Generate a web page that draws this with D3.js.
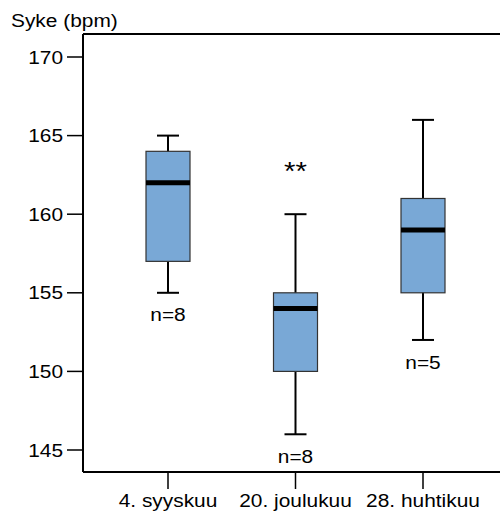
<!DOCTYPE html>
<html>
<head>
<meta charset="utf-8">
<script src="https://cdn.jsdelivr.net/npm/d3@7"></script>
<style>
  body { margin: 0; background: #fff; }
  text { font-family: "Liberation Sans", Arial, sans-serif; fill: #000; }
</style>
</head>
<body>
<div id="chart"></div>
<script>
// Data
const dates = ["4. syyskuu", "20. joulukuu", "28. huhtikuu"];
const whiskerLow = [155, 146, 152];
const q1 = [157, 150, 155];
const median = [162, 154, 159];
const q3 = [164, 155, 161];
const whiskerHigh = [165, 160, 166];
const nLabels = ["n=8", "n=8", "n=5"];
const marks = ["", "**", ""];
const yTicks = [145, 150, 155, 160, 165, 170];

const boxes = dates.map((d, i) => ({
    date: d,
    lo: whiskerLow[i], q1: q1[i], med: median[i], q3: q3[i], hi: whiskerHigh[i],
    n: nLabels[i], mark: marks[i]
}));

const W = 500, H = 515;
const plotLeft = 83, plotTop = 34, plotBottom = 472;
const sx = 1.13; // text is a bit wide in the original
const fs = 18.5;

const svg = d3.select("#chart").append("svg")
    .attr("width", W)
    .attr("height", H);

const y = d3.scaleLinear()
    .domain([145, 170])
    .range([450, 57]);

const x = d3.scalePoint()
    .domain(dates)
    .range([168, 423]);

const boxW = 44, capW = 22;

// text helper, stretched horizontally
function label(g, tx, ty, str, anchor, size) {
    g.append("text")
        .attr("transform", `translate(${tx},${ty}) scale(${sx},1)`)
        .attr("text-anchor", anchor)
        .attr("dominant-baseline", "central")
        .style("font-size", (size || fs) + "px")
        .text(str);
}

// frame: top line and bottom line across, left axis
svg.append("line")
    .attr("x1", plotLeft).attr("x2", W)
    .attr("y1", plotTop).attr("y2", plotTop)
    .attr("stroke", "#000").attr("stroke-width", 2);
svg.append("line")
    .attr("x1", plotLeft).attr("x2", W)
    .attr("y1", plotBottom).attr("y2", plotBottom)
    .attr("stroke", "#000").attr("stroke-width", 2);
svg.append("line")
    .attr("x1", plotLeft).attr("x2", plotLeft)
    .attr("y1", plotTop).attr("y2", plotBottom)
    .attr("stroke", "#000").attr("stroke-width", 2);

// y ticks
yTicks.forEach(t => {
    svg.append("line")
        .attr("x1", plotLeft - 16).attr("x2", plotLeft)
        .attr("y1", y(t)).attr("y2", y(t))
        .attr("stroke", "#000").attr("stroke-width", 1.5);
    label(svg, 63, y(t), t, "end");
});

// x ticks
dates.forEach(d => {
    svg.append("line")
        .attr("x1", x(d)).attr("x2", x(d))
        .attr("y1", plotBottom).attr("y2", plotBottom + 17)
        .attr("stroke", "#000").attr("stroke-width", 1.5);
    label(svg, x(d), 500, d, "middle");
});

// axis title
label(svg, 11, 20, "Syke (bpm)", "start");

// boxplots
const g = svg.selectAll(".box")
    .data(boxes)
    .enter()
    .append("g")
    .attr("class", "box");

g.append("line")
    .attr("x1", d => x(d.date)).attr("x2", d => x(d.date))
    .attr("y1", d => y(d.hi)).attr("y2", d => y(d.lo))
    .attr("stroke", "#000").attr("stroke-width", 2);

g.append("line")
    .attr("x1", d => x(d.date) - capW / 2).attr("x2", d => x(d.date) + capW / 2)
    .attr("y1", d => y(d.hi)).attr("y2", d => y(d.hi))
    .attr("stroke", "#000").attr("stroke-width", 2);

g.append("line")
    .attr("x1", d => x(d.date) - capW / 2).attr("x2", d => x(d.date) + capW / 2)
    .attr("y1", d => y(d.lo)).attr("y2", d => y(d.lo))
    .attr("stroke", "#000").attr("stroke-width", 2);

g.append("rect")
    .attr("x", d => x(d.date) - boxW / 2)
    .attr("y", d => y(d.q3))
    .attr("width", boxW)
    .attr("height", d => y(d.q1) - y(d.q3))
    .attr("fill", "#79a8d6")
    .attr("stroke", "#333")
    .attr("stroke-width", 1.2);

g.append("line")
    .attr("x1", d => x(d.date) - boxW / 2).attr("x2", d => x(d.date) + boxW / 2)
    .attr("y1", d => y(d.med)).attr("y2", d => y(d.med))
    .attr("stroke", "#000").attr("stroke-width", 5);

g.each(function(d) {
    const s = d3.select(this);
    label(s, x(d.date), y(d.lo) + 22, d.n, "middle");
    if (d.mark) label(s, x(d.date), y(d.hi) - 43, d.mark, "middle", 26);
});
</script>
</body>
</html>
